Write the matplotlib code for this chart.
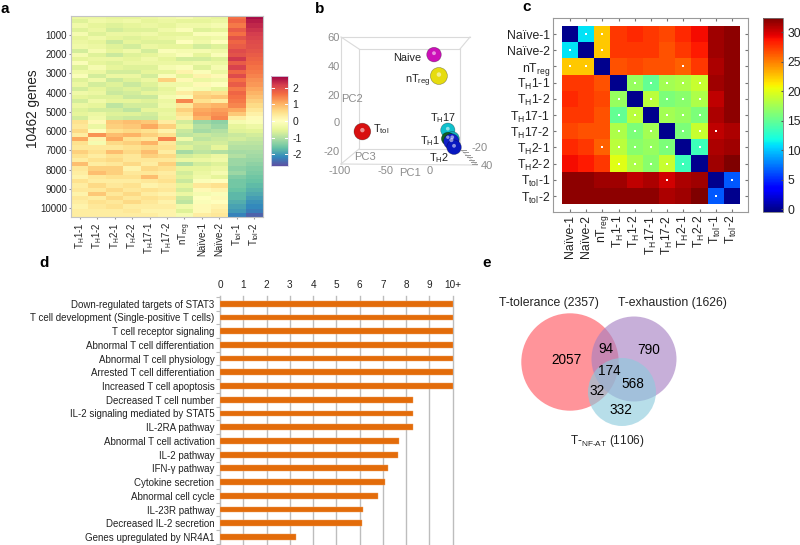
import numpy as np
import matplotlib
matplotlib.use("Agg")
import matplotlib.pyplot as plt
from matplotlib.patches import Circle

plt.rcParams['font.family'] = ['Liberation Sans', 'DejaVu Sans']
plt.rcParams['mathtext.fontset'] = 'custom'
plt.rcParams['mathtext.rm'] = 'Liberation Sans'
plt.rcParams['mathtext.default'] = 'rm'
plt.rcParams['axes.unicode_minus'] = False

# ---- panel a data (one entry per band of about 218 genes, top to bottom)
th1_1 = [-.4,-.6,-.3,-.6,-.2,-.5,-.4,-.3,-.7,-.2,-.5,-.1,-.6,-.3,-.1,-.6,-.4,-.7,-.3,-.5,-.7,-.4,-.6,-.5,-.7,
         .5,.4,.6,.3,1.1,.5,.4,.7,.5,.3,.9,.4,.3,.2,.5,.3,.4,.2,.4,.3,.2,.3,.3]
th1_2 = [-.4,-.3,-.5,-.4,-.6,-.3,-.5,-.4,-.2,-.6,-.4,-.5,-.2,-.4,-.7,-.3,-.7,-.5,-.4,-.6,-.3,-.5,-.7,-.4,-.3,
         .1,-.4,.0,1.3,.2,-.2,.4,.5,.3,.5,.3,.7,.9,.4,.3,.6,.4,.8,.3,.5,.4,.3,.3]
th2_1 = [-.5,-.4,-.6,-.7,-.4,-.5,-.8,-.6,-.5,-.8,-.4,-.6,-.5,-.7,-.4,-.8,-.6,-.7,-.8,-.6,-.5,-.9,-.7,-.6,-.7,
         .8,.7,.5,.9,1.1,.6,.4,.9,.5,.6,.4,.7,.7,.5,.3,.4,.6,.4,.6,.4,.5,.3,.3]
th2_2 = [-.5,-.3,-.5,-.6,-.4,-.6,-.5,-.7,-.3,-.6,-.5,-.4,-.6,-.7,-.4,-.6,-.8,-.6,-.7,-.8,-.5,-.7,-.9,-.6,-.8,
         .9,.8,.6,1.,.5,.7,.5,.6,.4,.4,.6,.2,.4,.5,.3,.5,.4,.6,.4,.6,.3,.4,.3]
th17_1 = [-.4,-.5,-.4,-.6,-.3,-.5,-.6,-.4,-.7,-.5,-.3,-.4,-.6,-.5,-.7,-.4,-.6,-.7,-.5,-.8,-.6,-.7,-.5,-.7,-.8,
          .8,1.1,.5,.7,.4,1.,.6,.9,.7,.4,.3,.6,.4,.9,.4,.2,.5,.3,.5,.4,.3,.2,.3]
th17_2 = [-.3,-.4,-.5,-.3,-.5,-.4,-.6,-.5,-.1,-.3,-.5,-.4,-.2,-.5,-.1,.7,-.3,-.5,-.4,-.2,-.4,-.3,-.5,-.4,-.5,
          .3,.7,.2,.5,1.4,.4,.5,.3,.6,.4,.7,.5,.3,.4,.5,.3,.4,.2,.4,.2,.3,.2,.2]
ntreg = [-.2,-.5,-.3,-.1,-.5,-.3,.0,-.5,-.2,-.1,-.7,-.4,-.1,.2,-.5,.1,-.3,-.1,.3,-.1,1.4,.4,.7,.5,.3,
         -.7,-.5,-.8,-.9,-.3,-.8,-.6,-1.1,-.7,-.4,-1.,-.5,-.7,-.6,-.8,-.5,-.7,-.4,-.8,-.9,-.3,-.6,-.2]
naive1 = [-.4,-.5,-.3,-.6,-.1,-.4,-.3,-.7,-.2,-.5,-.7,-.3,-.6,-.1,.2,-.4,.1,-.2,.6,.7,.5,.9,1.1,1.2,1.,
          -1.2,-1.,-1.1,-.8,-.9,-.7,-.8,-.9,-.6,-.4,-.7,-.5,-.4,-.3,-.1,.4,.1,-.2,.0,-.1,.1,.1,.3]
naive2 = [-.5,-.4,-.2,-.5,-.1,-.3,.0,-.6,-.3,-.1,-.6,-.4,-.2,-.4,.1,-.3,.0,-.5,.5,.8,.3,1.,1.2,1.3,1.4,
          -1.3,-1.2,-1.,-.9,-.8,-.7,-.5,-1.,-.4,-.3,-.6,-.4,-.2,-.5,.0,.5,.2,-.1,.1,.0,.2,.3,.4]
ttol1 = [1.6,1.7,1.5,1.8,1.6,1.9,1.7,1.8,2.,1.9,2.2,1.8,2.1,1.7,2.,1.6,1.8,1.5,1.7,1.6,1.5,1.4,1.1,.8,.3,
         -.2,-.5,-.6,-.8,-.7,-.9,-1.,-1.1,-1.,-1.2,-1.2,-1.3,-1.2,-1.4,-1.5,-1.5,-1.6,-1.7,-1.7,-1.8,-1.9,-2.,-2.2]
ttol2 = [2.6,2.45,2.35,2.25,2.15,2.08,2.,1.95,1.88,1.8,1.72,1.65,1.58,1.5,1.42,1.32,1.25,1.12,1.,.88,.72,.58,.42,.25,.08,
         -.1,-.35,-.55,-.7,-.82,-.92,-1.,-1.08,-1.15,-1.22,-1.3,-1.38,-1.45,-1.52,-1.6,-1.68,-1.76,-1.85,-1.95,-2.05,-2.15,-2.25,-2.5]
heat_cols = [th1_1, th1_2, th2_1, th2_2, th17_1, th17_2, ntreg, naive1, naive2, ttol1, ttol2]
heat_labels = ['T$_{H}$1-1','T$_{H}$1-2','T$_{H}$2-1','T$_{H}$2-2','T$_{H}$17-1','T$_{H}$17-2',
               'nT$_{reg}$','Naïve-1','Naïve-2','T$_{tol}$-1','T$_{tol}$-2']
gene_ticks = [1000,2000,3000,4000,5000,6000,7000,8000,9000,10000]
gene_total = 10462

# ---- panel b data (PC1, PC2, colour, size)
pc_names = ['Naive','nTreg','TH17a','TH17b','TH1','TH2a','TH2b','Ttol']
pc1 = [4.5, 10, 20, 25, 20, 24, 27, -76]
pc2 = [48, 33, -5, -11, -11, -13, -17, -6]
pc_col = ['#cc10b8','#e6dc10','#10c0cc','#10b0b8','#106020','#1020c8','#0818c0','#d81010']
pc_size = [110, 150, 105, 105, 85, 125, 110, 145]

# ---- panel c data
dist_labels = ['Naïve-1','Naïve-2','nT$_{reg}$','T$_{H}$1-1','T$_{H}$1-2','T$_{H}$17-1','T$_{H}$17-2',
               'T$_{H}$2-1','T$_{H}$2-2','T$_{tol}$-1','T$_{tol}$-2']
dist = [[0,11,22.5,27.5,28,27.5,27,28,29,31.5,32],
        [11,0,22.5,27.5,27.5,27.5,26.5,27.5,28.5,31.5,32],
        [22.5,22.5,0,26.5,27,26.5,26.5,26,27.5,31,32],
        [27.5,27.5,26.5,0,17,15,17.5,18,19,31.5,32],
        [28,27.5,27,17,0,18.5,16,16.5,18,30.5,32],
        [27.5,27.5,26.5,15,18.5,0,17.5,17,16,31,32],
        [27,26.5,26.5,18,16,17.5,0,16,19,30.5,31],
        [28,27.5,26,18.5,16.5,17,16,0,13.5,31,31.5],
        [29,28.5,27.5,20,18,16.5,19,13.5,0,31.5,32.5],
        [32,32,31.5,31.5,30.5,31,30,31,31.5,0,6.5],
        [32,32,32,32,32,32,31,31.5,32.5,6.5,0]]
dot_rows = [0,0,1,1,2,2,2,3,3,3,3,3,4,4,4,4,4,5,5,5,5,5,6,6,6,6,6,6,7,7,7,7,7,7,8,8,8,8,8,9,9,10]
dot_cols = [1,2,0,2,0,1,7,4,5,6,7,8,3,5,6,7,8,3,4,6,7,8,3,4,5,7,8,9,2,3,4,5,6,8,3,4,5,6,7,6,10,9]

# ---- panel d data
terms = ['Down-regulated targets of STAT3','T cell development (Single-positive T cells)',
         'T cell receptor signaling','Abnormal T cell differentiation','Abnormal T cell physiology',
         'Arrested T cell differentiation','Increased T cell apoptosis','Decreased T cell number',
         'IL-2 signaling mediated by STAT5','IL-2RA pathway','Abnormal T cell activation','IL-2 pathway',
         'IFN-γ pathway','Cytokine secretion','Abnormal cell cycle','IL-23R pathway',
         'Decreased IL-2 secretion','Genes upregulated by NR4A1']
scores = [10,10,10,10,10,10,10,8.3,8.3,8.3,7.7,7.65,7.2,7.1,6.8,6.15,6.1,3.25]
score_ticks = [0,1,2,3,4,5,6,7,8,9,10]
score_labels = ['0','1','2','3','4','5','6','7','8','9','10+']

# ---- panel e data
venn_counts = ['2057','94','790','174','32','568','332']
venn_names = ['T-tolerance (2357)','T-exhaustion (1626)','T-$_{NF\\text{-}AT}$ (1106)']

W, H = 800, 545
fig = plt.figure(figsize=(W/100, H/100), dpi=100)
def axpx(x0, y0, x1, y1, **kw):
    return fig.add_axes([x0/W, 1-y1/H, (x1-x0)/W, (y1-y0)/H], **kw)

TXT = '#222222'
ov = axpx(0, 0, W, H)
ov.set_xlim(0, W); ov.set_ylim(H, 0); ov.axis('off')
for s, x, y in [('a',5,9),('b',320,9),('c',527,7),('d',44,263),('e',487,263)]:
    ov.text(x, y, s, fontsize=11, fontweight='bold', ha='center', va='center', color='k')

# ---------- a
axa = axpx(71, 15.5, 263, 217)
M = np.array(heat_cols).T
im = axa.imshow(M, aspect='auto', cmap='Spectral_r', vmin=-2.7, vmax=2.7,
                extent=[-.5, 10.5, gene_total, 0], interpolation='nearest')
axa.set_yticks(gene_ticks)
axa.set_xticks(range(11))
axa.set_xticklabels(heat_labels, rotation=90, fontsize=7, color=TXT)
axa.tick_params(axis='y', labelsize=7, length=1.5, color='#999999', labelcolor=TXT, pad=1.5)
axa.tick_params(axis='x', length=1.5, color='#999999', pad=2)
for s in axa.spines.values():
    s.set_color('#c4c4c4'); s.set_linewidth(0.8)
ov.text(33, 109, '10462 genes', rotation=90, fontsize=9.8, ha='center', va='center', color=TXT)

cax = axpx(271, 76, 288, 166)
cb = fig.colorbar(im, cax=cax)
cb.set_ticks([-2,-1,0,1,2])
cb.set_ticklabels(['-2','-1','0','1','2'])
cax.tick_params(length=0, labelsize=7.5, labelcolor=TXT, pad=3)
cb.outline.set_edgecolor('#d8d8e8'); cb.outline.set_linewidth(0.6)
for v in [-2,-1,0,1,2]:
    cax.plot([0,.2],[v,v],color='w',lw=.7,transform=cax.get_yaxis_transform())
    cax.plot([.8,1],[v,v],color='w',lw=.7,transform=cax.get_yaxis_transform())

# ---------- b
axb = axpx(330, 25, 495, 180)
axb.set_xlim((330-430)/0.89, (495-430)/0.89)
axb.set_ylim((123-180)/1.425, (123-25)/1.425)
axb.axis('off')
axb.scatter(pc1, pc2, s=pc_size, c=pc_col, edgecolors='#00000055', linewidths=.5, zorder=3)
axb.scatter(pc1, [p+1 for p in pc2], s=[z*.07 for z in pc_size], c='#ffffff88', linewidths=0, zorder=4)
fc = '#dadada'
for xs, ys in [([341,470],[37,37]),([359,460],[49,49]),([359,359],[49,149]),([460,460],[49,149]),
               ([359,460],[149,149]),([341,341],[37,164]),([341,477],[164,165]),([341,359],[37,49]),
               ([470,460],[37,49]),([341,359],[164,149]),([477,460],[165,149])]:
    ov.plot(xs, ys, color=fc, lw=.8)
for i in range(7):
    y = 150 + i*2.4
    ov.plot([461+i*1.9, 466+i*1.9],[y,y], color='#999999', lw=.7)
GR = '#8c8c8c'
for s, y in [('60',38),('40',67),('20',96),('0',123),('-20',152)]:
    ov.text(340, y, s, fontsize=8, color=GR, ha='right', va='center')
for s, x in [('-100',340),('-50',385),('0',430)]:
    ov.text(x, 171, s, fontsize=8, color=GR, ha='center', va='center')
ov.text(471, 148, '-20', fontsize=8, color=GR, va='center')
ov.text(481, 166, '40', fontsize=8, color=GR, va='center')
ov.text(352, 99, 'PC2', fontsize=8, color=GR, ha='center', va='center')
ov.text(365, 157, 'PC3', fontsize=8, color=GR, ha='center', va='center')
ov.text(410, 173, 'PC1', fontsize=8, color=GR, ha='center', va='center')
for s, x, y in [('Naive',421,58),('nT$_{reg}$',430,81),('T$_{H}$17',456,118),('T$_{tol}$',389,129),
                ('T$_{H}$1',440,141),('T$_{H}$2',449,158)]:
    ov.text(x, y, s, fontsize=7.8, color=TXT, ha='right', va='center')

# ---------- c
axc = axpx(553, 18, 748, 212)
cell = 178/11
imc = axc.imshow(np.array(dist), cmap='jet', vmin=-0.5, vmax=32.4, aspect='auto',
                 extent=[-.5, 10.5, 10.5, -.5], interpolation='nearest')
axc.set_xlim(-.5-(562-553)/cell, 10.5+(748-740)/cell)
axc.set_ylim(10.5+(212-204)/cell, -.5-(26-18)/cell)
axc.scatter(dot_cols, dot_rows, s=3, c='w', marker='s', linewidths=0, zorder=3)
axc.set_xticks(range(11)); axc.set_yticks(range(11))
axc.set_xticklabels(dist_labels, rotation=90, fontsize=8.8, color=TXT)
axc.set_yticklabels(dist_labels, fontsize=8.8, color=TXT)
axc.tick_params(length=2, direction='in', color='#777777', top=True, right=True, pad=2)
for s in axc.spines.values():
    s.set_color('#9a9a9a'); s.set_linewidth(0.8)
caxc = axpx(763, 18, 783, 212)
cbc = fig.colorbar(imc, cax=caxc)
cbc.set_ticks([0,5,10,15,20,25,30])
caxc.tick_params(length=1.5, direction='in', labelsize=8.8, labelcolor=TXT, pad=3, color='#555555')
cbc.outline.set_edgecolor('#777777'); cbc.outline.set_linewidth(.6)

# ---------- d
axd = axpx(220, 296, 452.7, 544)
y_pos = np.arange(len(terms))
axd.set_xlim(0, 10)
axd.set_ylim(17.51, -.56)
axd.grid(axis='x', color='#bdbdbd', lw=1)
axd.set_axisbelow(True)
axd.barh(y_pos, scores, height=.42, color='#E36C0A', edgecolor='#F0A060', linewidth=.3, zorder=3)
axd.set_xticks(score_ticks); axd.set_xticklabels(score_labels)
axd.xaxis.tick_top()
axd.set_yticks(y_pos); axd.set_yticklabels(terms)
axd.set_yticks(np.arange(-.5, 17.6, 1), minor=True)
axd.tick_params(axis='y', which='major', length=0, labelsize=7.05, labelcolor=TXT, pad=4)
axd.tick_params(axis='y', which='minor', length=3, color='#bdbdbd', width=.8)
axd.tick_params(axis='x', length=0, labelsize=7.2, labelcolor=TXT, pad=4)
for k, s in axd.spines.items():
    s.set_visible(k == 'left')
    s.set_color('#bdbdbd')
for g in axd.get_xgridlines():
    g.set_clip_on(False)

# ---------- e
for (x, y, r), col, a in [((570,362,48.7),'#FF6B73',.72),((634,359,42.5),'#A67FC2',.62),((622,392,34),'#8CCBDD',.62)]:
    ov.add_patch(Circle((x,y), r, facecolor=col, alpha=a, edgecolor='none'))
for s, x, y in zip(venn_counts, [567,606,649,609,597,633,621], [360,349,350,371,391,384,410]):
    ov.text(x, y, s, fontsize=9.8, color='k', ha='center', va='center')
ov.text(549, 303, venn_names[0], fontsize=8.8, color=TXT, ha='center', va='center')
ov.text(672, 303, venn_names[1], fontsize=8.8, color=TXT, ha='center', va='center')
ov.text(607, 441, venn_names[2], fontsize=8.5, color=TXT, ha='center', va='center')

fig.savefig('out.png', dpi=100)
